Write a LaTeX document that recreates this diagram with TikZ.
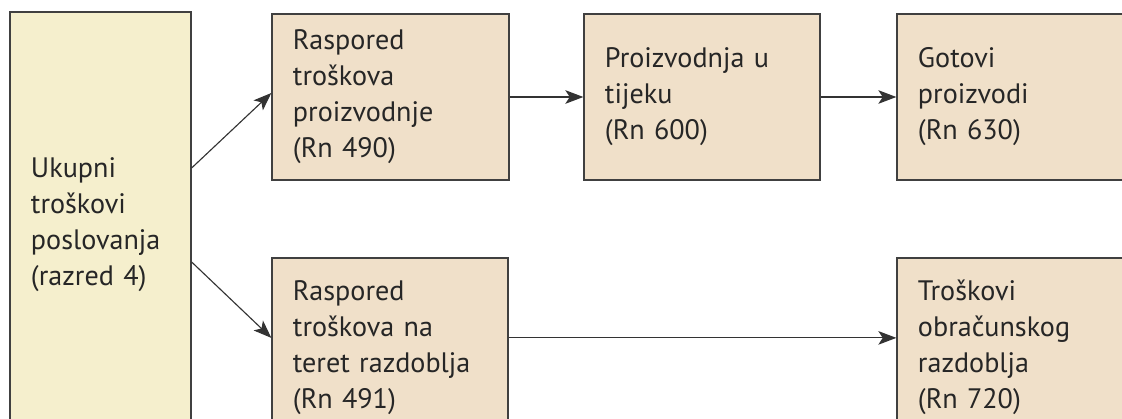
\documentclass[tikz,border=0pt]{standalone}
\usepackage{fontspec}
\setmainfont{PT Sans}
\usetikzlibrary{arrows.meta, positioning, calc}

\definecolor{kontofill}{HTML}{F0E0C9}
\definecolor{razredfill}{HTML}{F5EFCD}

\tikzset{
  konto/.style={draw=black!75, line width=0.9pt, fill=kontofill, align=left,
    inner xsep=0.525cm, inner ysep=0pt, text=black!85,
    font=\fontsize{20}{25.6}\selectfont},
  flow/.style={-{Stealth[length=4.5mm,width=3.4mm,inset=1.1mm]}, draw=black!80, line width=0.8pt}
}

\begin{document}
\begin{tikzpicture}[x=0.025cm, y=-0.025cm]
\clip (0,0) rectangle (1122,419);

% Total costs (class 4)
\node[konto, fill=razredfill, text width=3.475cm, minimum height=10.65cm] (ukupni)
  at (100.5,225) {Ukupni\\troškovi\\poslovanja\\(razred 4)};

% Upper row
\node[konto, text width=4.875cm, minimum height=4.15cm] (raspProiz)
  at (390.5,97) {Raspored\\troškova\\proizvodnje\\(Rn 490)};
\node[konto, text width=4.85cm, minimum height=4.15cm] (proizTijek)
  at (702,97) {Proizvodnja u\\tijeku\\(Rn 600)};
\node[konto, text width=4.875cm, minimum height=4.15cm] (gotovi)
  at (1015.5,97) {Gotovi\\proizvodi\\(Rn 630)};

% Lower row
\node[konto, text width=4.85cm, minimum height=4.475cm] (raspRazd)
  at (390,347.5) {Raspored\\troškova na\\teret razdoblja\\(Rn 491)};
\node[konto, text width=4.875cm, minimum height=4.475cm] (troskovi)
  at (1015.5,347.5) {Troškovi\\obračunskog\\razdoblja\\(Rn 720)};

% Flows
\draw[flow] ([yshift=1.425cm]ukupni.east) -- ([yshift=0.1cm]raspProiz.west);
\draw[flow] ([yshift=-0.925cm]ukupni.east) -- ([yshift=0.24cm]raspRazd.west);
\draw[flow] (raspProiz.east) -- (proizTijek.west);
\draw[flow] (proizTijek.east) -- (gotovi.west);
\draw[flow] ([yshift=0.24cm]raspRazd.east) -- ([yshift=0.24cm]troskovi.west);
\end{tikzpicture}
\end{document}
